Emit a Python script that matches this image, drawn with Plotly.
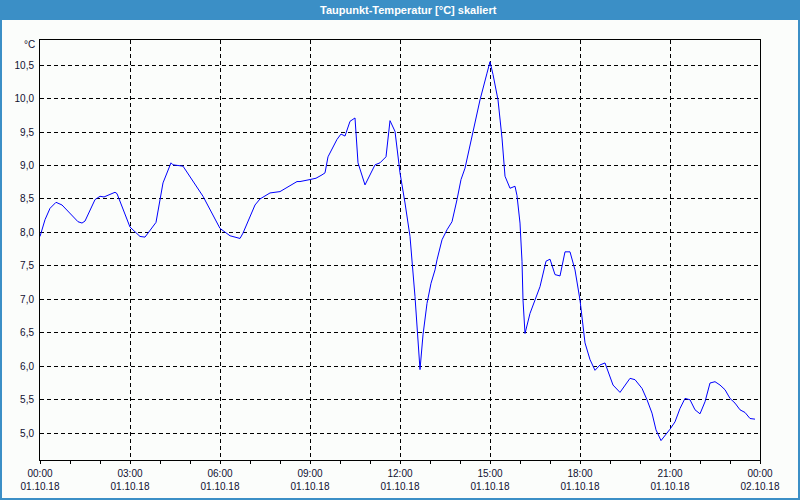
import plotly.graph_objects as go

DAY = "2018-10-01 "
times = ["00:00","00:10","00:20","00:32","00:44","01:04","01:16","01:24","01:30","01:50",
         "02:00","02:08","02:30","02:34","03:00","03:20","03:30","03:52","04:06","04:22",
         "04:26","04:46","05:26","06:00","06:20","06:40","06:46","07:10","07:20","07:40",
         "08:00","08:34","08:40","09:00","09:12","09:24","09:30","09:36","09:54","10:02",
         "10:10","10:20","10:30","10:36","10:50","11:10","11:20","11:32","11:40","11:50",
         "12:00","12:10","12:20","12:30","12:36","12:40","12:46","12:54","13:02","13:10",
         "13:14","13:24","13:34","13:44","13:54","14:02","14:10","14:26","14:40","14:54",
         "15:00","15:06","15:16","15:24","15:30","15:40","15:50","15:54","16:00","16:04",
         "16:06","16:10","16:20","16:30","16:40","16:52","17:00","17:10","17:20","17:30",
         "17:40","17:50","18:00","18:10","18:20","18:30","18:40","18:50","19:06","19:20",
         "19:40","19:50","20:04","20:14","20:24","20:32","20:42","21:00","21:10","21:20",
         "21:30","21:40","21:50","22:00","22:10","22:20","22:30","22:40","22:50","23:00",
         "23:10","23:20","23:30","23:40","23:50"]
values = [7.94,8.19,8.36,8.45,8.41,8.26,8.16,8.14,8.17,8.49,
          8.54,8.53,8.60,8.58,8.08,7.94,7.93,8.15,8.74,9.04,
          9.01,8.99,8.54,8.06,7.95,7.91,7.99,8.41,8.50,8.59,
          8.61,8.76,8.76,8.79,8.81,8.86,8.89,9.13,9.39,9.47,
          9.44,9.66,9.71,9.04,8.71,9.01,9.04,9.13,9.67,9.51,
          8.89,8.44,7.94,7.04,6.44,5.95,6.47,6.94,7.24,7.44,
          7.59,7.89,8.04,8.16,8.49,8.79,8.96,9.53,9.98,10.38,
          10.55,10.36,9.98,9.41,8.84,8.66,8.69,8.55,8.14,7.57,
          6.99,6.49,6.79,6.99,7.19,7.57,7.60,7.37,7.35,7.71,
          7.71,7.44,6.99,6.35,6.10,5.94,6.02,6.05,5.72,5.61,
          5.82,5.80,5.67,5.50,5.30,5.05,4.89,5.06,5.17,5.37,
          5.52,5.50,5.35,5.29,5.47,5.75,5.77,5.72,5.65,5.52,
          5.45,5.35,5.31,5.22,5.21]

tick_vals = ["2018-10-01 00:00","2018-10-01 03:00","2018-10-01 06:00","2018-10-01 09:00",
             "2018-10-01 12:00","2018-10-01 15:00","2018-10-01 18:00","2018-10-01 21:00",
             "2018-10-02 00:00"]
tick_text = ["00:00<br>01.10.18","03:00<br>01.10.18","06:00<br>01.10.18","09:00<br>01.10.18",
             "12:00<br>01.10.18","15:00<br>01.10.18","18:00<br>01.10.18","21:00<br>01.10.18",
             "00:00<br>02.10.18"]
y_ticks = [5.0,5.5,6.0,6.5,7.0,7.5,8.0,8.5,9.0,9.5,10.0,10.5]

title_text = "Taupunkt-Temperatur [°C] skaliert"
unit_text = "°C"

BAR = "#3b8fc6"
BG = "#fbfdfb"
TXT = "#101030"
FONT = "Liberation Sans"

W, H = 800, 500
L, R, T, B = 40, 40, 40, 40
PW, PH = W - L - R, H - T - B

def px(x):
    return (x - L) / PW

def py(y):
    return (H - B - y) / PH

fig = go.Figure()
fig.add_trace(go.Scatter(
    x=[DAY + t for t in times], y=values, mode="lines",
    line=dict(color="#0000ff", width=1), hoverinfo="skip", showlegend=False))

fig.update_layout(
    width=W, height=H,
    margin=dict(l=L, r=R, t=T, b=B, pad=0),
    paper_bgcolor=BG, plot_bgcolor=BG,
    separators=",.",
    font=dict(family=FONT, size=10, color=TXT),
    showlegend=False,
    xaxis=dict(
        range=["2018-10-01 00:00", "2018-10-02 00:00"],
        tickvals=tick_vals, ticktext=tick_text, automargin=False,
        ticks="outside", ticklen=3, tickcolor="black", tickwidth=1,
        showline=True, linecolor="black", linewidth=1, mirror=True,
        showgrid=True, gridcolor="black", gridwidth=1, griddash="4px,3px",
        zeroline=False, tickfont=dict(family=FONT, size=10, color=TXT),
        minor=dict(dtick=3600000, tick0="2018-10-01 00:00", ticks="outside",
                   ticklen=3, tickcolor="black", showgrid=False),
        ticklabelstandoff=1,
    ),
    yaxis=dict(
        range=[4.6, 10.875], automargin=False,
        tickvals=y_ticks, tickformat=".1f",
        ticks="", showline=True, linecolor="black", linewidth=1, mirror=True,
        showgrid=True, gridcolor="black", gridwidth=1, griddash="4px,3px",
        zeroline=False, tickfont=dict(family=FONT, size=10, color=TXT),
        ticklabelstandoff=3,
    ),
    shapes=[
        dict(type="rect", xref="paper", yref="paper",
             x0=px(0), x1=px(800), y0=py(20), y1=py(0),
             fillcolor=BAR, line=dict(width=0), layer="above"),
        dict(type="rect", xref="paper", yref="paper",
             x0=px(0), x1=px(2), y0=py(500), y1=py(0),
             fillcolor=BAR, line=dict(width=0), layer="above"),
        dict(type="rect", xref="paper", yref="paper",
             x0=px(798), x1=px(800), y0=py(500), y1=py(0),
             fillcolor=BAR, line=dict(width=0), layer="above"),
        dict(type="rect", xref="paper", yref="paper",
             x0=px(0), x1=px(800), y0=py(500), y1=py(498),
             fillcolor=BAR, line=dict(width=0), layer="above"),
    ],
    annotations=[
        dict(text="<b>" + title_text + "</b>", xref="paper", yref="paper", x=px(408), y=py(10),
             xanchor="center", yanchor="middle", showarrow=False,
             font=dict(family=FONT, size=11, color="white")),
        dict(text=unit_text, xref="paper", yref="paper", x=px(37), y=py(45),
             xanchor="right", yanchor="middle", showarrow=False,
             font=dict(family=FONT, size=10, color=TXT)),
    ],
)

fig.write_html("out.html")
